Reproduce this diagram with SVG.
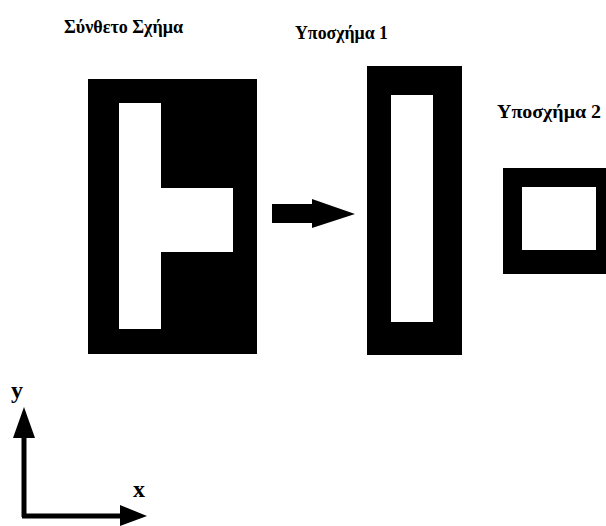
<svg xmlns="http://www.w3.org/2000/svg" width="606" height="526" viewBox="0 0 606 526">
<style>
.lbl{font-family:"Liberation Serif","Times New Roman","DejaVu Serif",serif;font-weight:bold;font-size:18px;fill:#000}
.axl{font-family:"Liberation Serif","Times New Roman","DejaVu Serif",serif;font-weight:bold;font-size:24px;fill:#000}
.blk{fill:#000}
.wht{fill:#fff}
.ax{stroke:#000;stroke-width:5;fill:none}
</style>
<rect width="606" height="526" fill="#fff"/>
<g id="composite">
<text class="lbl" x="64" y="33" textLength="119" lengthAdjust="spacingAndGlyphs">Σύνθετο Σχήμα</text>
<rect class="blk" x="88" y="79" width="169" height="275"/>
<path class="wht" d="M119,103 H161 V188 H233 V252 H161 V329 H119 Z"/>
</g>
<g id="sub1">
<text class="lbl" x="295" y="39" textLength="93" lengthAdjust="spacingAndGlyphs">Υποσχήμα 1</text>
<rect class="blk" x="367" y="66" width="95" height="289"/>
<rect class="wht" x="391" y="95" width="42" height="227"/>
</g>
<g id="sub2">
<text class="lbl" x="497" y="118" textLength="104" lengthAdjust="spacingAndGlyphs">Υποσχήμα 2</text>
<rect class="blk" x="503" y="168" width="110" height="106"/>
<rect class="wht" x="522" y="187" width="74" height="63"/>
</g>
<g id="connectors">
<path class="blk" d="M272,204 H312 V199 L355,214 L312,228 V223 H272 Z"/>
</g>
<g id="axes">
<path class="ax" d="M24,517 V432"/>
<path class="blk" d="M24,407 L35,438 L13,438 Z"/>
<path class="ax" d="M22,516 H122"/>
<path class="blk" d="M147,516 L120,505 L120,526 Z"/>
<text class="axl" x="11" y="398">y</text>
<text class="axl" x="133" y="497">x</text>
</g>
</svg>
